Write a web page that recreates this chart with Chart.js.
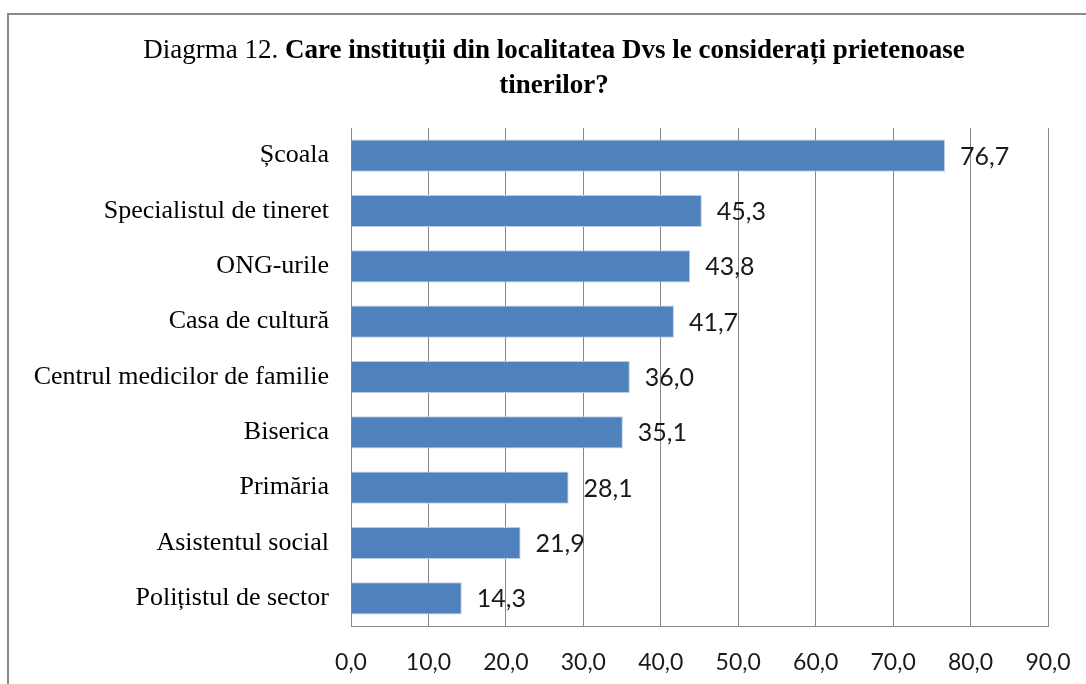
<!DOCTYPE html>
<html>
<head>
<meta charset="utf-8">
<script src="https://cdn.jsdelivr.net/npm/chart.js@4"></script>
<style>
  html, body { margin: 0; padding: 0; background: #fff; overflow: hidden; }
  #wrap { position: relative; width: 1086px; height: 684px; }
  #frame {
    position: absolute; left: 7px; top: 13px; width: 1200px; height: 800px;
    border-left: 2px solid #8a8a8a; border-top: 2px solid #8a8a8a;
  }
  #title {
    position: absolute; left: 22px; width: 1064px; top: 32px;
    text-align: center; font-family: "Liberation Serif", serif; font-size: 27px;
    line-height: 35px; color: #000;
  }
  #title b { font-weight: bold; }
  canvas { position: absolute; left: 0; top: 0; }
</style>
</head>
<body>
<div id="wrap">
  <div id="frame"></div>
  <canvas id="c" width="1086" height="684"></canvas>
  <div id="title">Diagrma 12. <b>Care instituții din localitatea Dvs le considerați prietenoase<br>tinerilor?</b></div>
</div>
<script>
// values, top bar first
const categories = [
  "Școala",
  "Specialistul de tineret",
  "ONG-urile",
  "Casa de cultură",
  "Centrul medicilor de familie",
  "Biserica",
  "Primăria",
  "Asistentul social",
  "Polițistul de sector",
];
const percentages = [76.7, 45.3, 43.8, 41.7, 36.0, 35.1, 28.1, 21.9, 14.3];
const axisMin = 0;
const axisMax = 90;
const axisStep = 10;

const SANS = "Lato, 'Open Sans', sans-serif";
const SERIF = "'Liberation Serif', serif";
const GRID = "#868686";

const fmt = (v) => Number(v).toFixed(1).replace(".", ",");

// value labels to the right of each bar
const barLabels = {
  id: "barLabels",
  afterDatasetsDraw(chart) {
    const ctx = chart.ctx;
    const meta = chart.getDatasetMeta(0);
    ctx.save();
    ctx.font = "25px " + SANS;
    ctx.fillStyle = "#1a1a1a";
    ctx.textAlign = "left";
    ctx.textBaseline = "middle";
    meta.data.forEach((bar, i) => {
      ctx.fillText(fmt(percentages[i]), bar.x + 15, bar.y + 1);
    });
    ctx.restore();
  },
};

new Chart(document.getElementById("c"), {
  type: "bar",
  data: {
    labels: categories,
    datasets: [{
      data: percentages,
      backgroundColor: "#4f81bd",
      borderColor: "#bccee6",
      borderWidth: { top: 1, bottom: 1, right: 1, left: 0 },
      borderSkipped: false,
      barPercentage: 0.58,
      categoryPercentage: 1,
    }],
  },
  options: {
    indexAxis: "y",
    responsive: false,
    animation: false,
    layout: { padding: { left: 9, top: 128, right: 38, bottom: 0 } },
    plugins: { legend: { display: false }, tooltip: { enabled: false }, title: { display: false } },
    scales: {
      x: {
        min: axisMin,
        max: axisMax,
        ticks: {
          stepSize: axisStep,
          callback: (v) => fmt(v),
          color: "#1a1a1a",
          font: { family: SANS, size: 23 },
          padding: 23,
          maxRotation: 0,
        },
        grid: { color: GRID, lineWidth: 1, drawTicks: false },
        border: { display: true, color: GRID, width: 1 },
        // pin the plot box: no extra room for the end tick labels
        afterFit: (s) => { s.height = 58; s.paddingLeft = 0; s.paddingRight = 0; },
      },
      y: {
        ticks: {
          color: "#000",
          font: { family: SERIF, size: 26 },
          padding: 22,
        },
        grid: { display: false, drawTicks: false },
        border: { display: true, color: GRID, width: 1 },
        afterFit: (s) => { s.width = 351 - 9; s.paddingTop = 0; s.paddingBottom = 0; },
      },
    },
  },
  plugins: [barLabels],
});
</script>
</body>
</html>
